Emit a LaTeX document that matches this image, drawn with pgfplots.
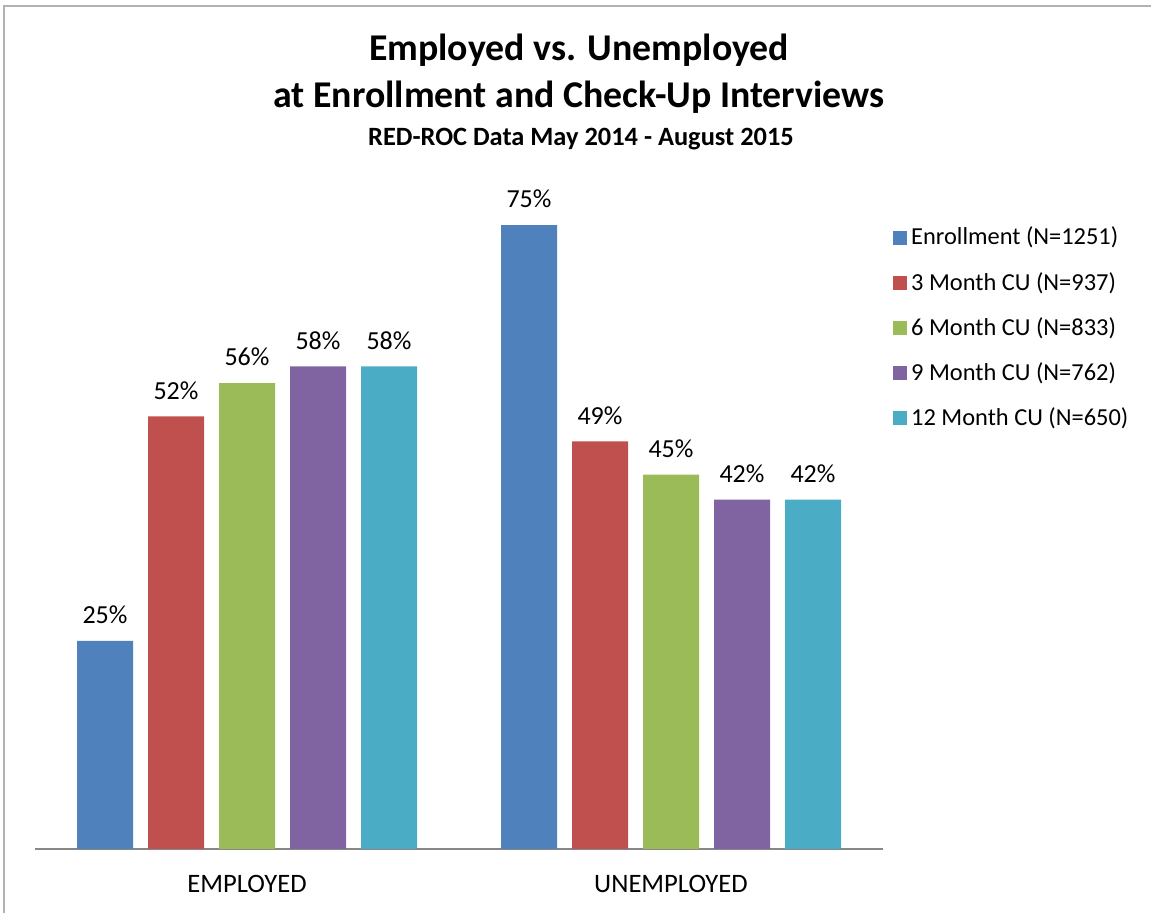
\documentclass[border=0pt]{standalone}
\usepackage{pgfplots}
\pgfplotsset{compat=1.18}
\usepackage{fontspec}
\setmainfont{Carlito}
\definecolor{cBlue}{HTML}{4F81BD}
\definecolor{cRed}{HTML}{C0504D}
\definecolor{cGreen}{HTML}{9BBB59}
\definecolor{cPurple}{HTML}{8064A2}
\definecolor{cTeal}{HTML}{4BACC6}
\begin{document}
\begin{tikzpicture}
\useasboundingbox (0pt,0pt) rectangle (575.5pt,456.5pt);
\draw[color=black!30, line width=1pt] (2pt,0pt) -- (2pt,453.5pt) -- (575.5pt,453.5pt);
\node[font=\fontsize{18.9}{22}\selectfont\bfseries] at (289.5pt,431.5pt) {Employed vs. Unemployed};
\node[font=\fontsize{18.9}{22}\selectfont\bfseries] at (289.5pt,408pt) {at Enrollment and Check-Up Interviews};
\node[font=\fontsize{13.2}{15}\selectfont\bfseries] at (290.5pt,387pt) {RED-ROC Data May 2014 - August 2015};
\begin{axis}[
  at={(17.5pt,32pt)}, anchor=south west,
  scale only axis, width=424pt, height=332.8pt,
  xmin=-0.5, xmax=1.5, ymin=0, ymax=80,
  ybar=7.5pt, bar width=28pt,
  axis lines*=left,
  y axis line style={draw=none},
  x axis line style={color=black!47, line width=1pt, -},
  ytick=\empty,
  xtick={0,1}, xticklabels={EMPLOYED,UNEMPLOYED},
  major tick length=0pt,
  tick label style={font=\fontsize{13.3}{15.6}\selectfont},
  every x tick label/.append style={yshift=-9.5pt},
  /pgf/number format/assume math mode=true,
  nodes near coords={\pgfmathprintnumber{\pgfplotspointmeta}\%},
  every node near coord/.append style={font=\fontsize{13}{15.6}\selectfont, color=black, yshift=5pt},
  legend cell align=left,
  legend image code/.code={\path[fill] (0pt,-3.5pt) rectangle (7pt,3.5pt);},
  legend style={draw=none, fill=none, at={(1.0045,0.947)}, anchor=north west,
    font=\fontsize{12.2}{14.6}\selectfont, row sep=8.2pt},
]
\addplot[fill=cBlue, draw=none] coordinates {(0,25) (1,75)};
\addlegendentry{Enrollment (N=1251)}
\addplot[fill=cRed, draw=none] coordinates {(0,52) (1,49)};
\addlegendentry{3 Month CU (N=937)}
\addplot[fill=cGreen, draw=none] coordinates {(0,56) (1,45)};
\addlegendentry{6 Month CU (N=833)}
\addplot[fill=cPurple, draw=none] coordinates {(0,58) (1,42)};
\addlegendentry{9 Month CU (N=762)}
\addplot[fill=cTeal, draw=none] coordinates {(0,58) (1,42)};
\addlegendentry{12 Month CU (N=650)}
\end{axis}
\end{tikzpicture}
\end{document}
